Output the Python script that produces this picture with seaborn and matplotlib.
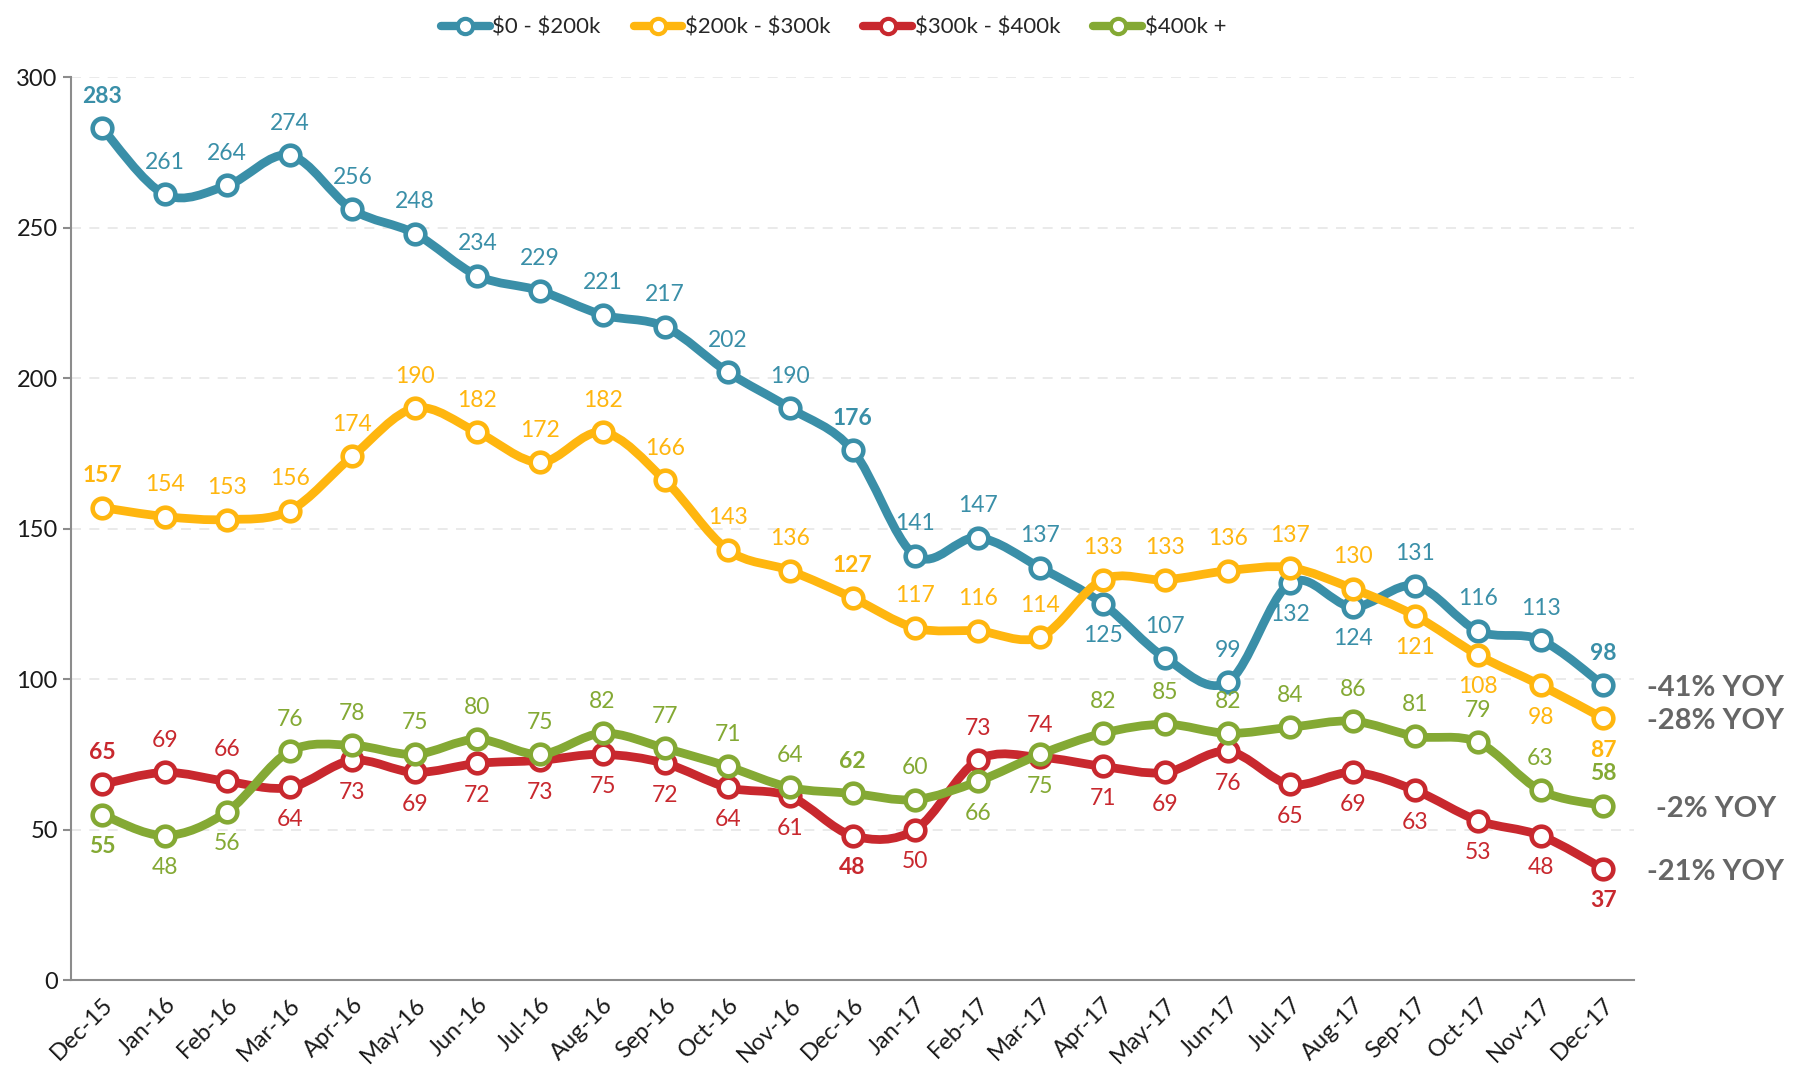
import numpy as np
import pandas as pd
import matplotlib.pyplot as plt
import seaborn as sns
from matplotlib.path import Path
from matplotlib.patches import PathPatch
from matplotlib.lines import Line2D

months = ['Dec-15', 'Jan-16', 'Feb-16', 'Mar-16', 'Apr-16', 'May-16', 'Jun-16', 'Jul-16',
          'Aug-16', 'Sep-16', 'Oct-16', 'Nov-16', 'Dec-16', 'Jan-17', 'Feb-17', 'Mar-17',
          'Apr-17', 'May-17', 'Jun-17', 'Jul-17', 'Aug-17', 'Sep-17', 'Oct-17', 'Nov-17', 'Dec-17']

band_0_200 = [283, 261, 264, 274, 256, 248, 234, 229, 221, 217, 202, 190, 176,
              141, 147, 137, 125, 107, 99, 132, 124, 131, 116, 113, 98]
band_200_300 = [157, 154, 153, 156, 174, 190, 182, 172, 182, 166, 143, 136, 127,
                117, 116, 114, 133, 133, 136, 137, 130, 121, 108, 98, 87]
band_300_400 = [65, 69, 66, 64, 73, 69, 72, 73, 75, 72, 64, 61, 48,
                50, 73, 74, 71, 69, 76, 65, 69, 63, 53, 48, 37]
band_400_up = [55, 48, 56, 76, 78, 75, 80, 75, 82, 77, 71, 64, 62,
               60, 66, 75, 82, 85, 82, 84, 86, 81, 79, 63, 58]

series_names = ['$0 - $200k', '$200k - $300k', '$300k - $400k', '$400k +']
yoy_labels = ['-41% YOY', '-28% YOY', '-21% YOY', '-2% YOY']

# where each data label sits: a = above the point, b = below
label_side = {
    '$0 - $200k':    'aaaaaaaaaaaaaaaabaabbaaaa',
    '$200k - $300k': 'aaaaaaaaaaaaaaaaaaaaabbbb',
    '$300k - $400k': 'aaabbbbbbbbbbbaabbbbbbbbb',
    '$400k +':       'bbbaaaaaaaaaaabbaaaaaaaaa',
}

colors = {'$0 - $200k': '#3A8FA8', '$200k - $300k': '#FFB60F',
          '$300k - $400k': '#C8282E', '$400k +': '#84A934'}

values = dict(zip(series_names, [band_0_200, band_200_300, band_300_400, band_400_up]))
df = pd.DataFrame([(i, m, s, v) for s in series_names for i, (m, v) in enumerate(zip(months, values[s]))],
                  columns=['idx', 'month', 'series', 'value'])

sns.set_style('white')
plt.rcParams['font.family'] = ['Lato', 'DejaVu Sans']

fig = plt.figure(figsize=(17.96, 10.7), dpi=100)
ax = fig.add_axes([0.0395, 0.084, 0.8705, 0.844])


def smooth_path(xs, ys):
    # excel-like smoothed line: catmull-rom segments as cubic beziers
    pts = np.column_stack([xs, ys]).astype(float)
    verts = [pts[0]]
    codes = [Path.MOVETO]
    n = len(pts)
    for i in range(n - 1):
        p0 = pts[max(i - 1, 0)]
        p1 = pts[i]
        p2 = pts[i + 1]
        p3 = pts[min(i + 2, n - 1)]
        c1 = p1 + (p2 - p0) / 6.0
        c2 = p2 - (p3 - p1) / 6.0
        verts += [c1, c2, p2]
        codes += [Path.CURVE4] * 3
    return Path(verts, codes)


for k, name in enumerate(series_names):
    sub = df[df.series == name]
    c = colors[name]
    patch = PathPatch(smooth_path(sub.idx, sub.value), facecolor='none', edgecolor=c,
                      lw=6.3, capstyle='round', joinstyle='round', zorder=3 + 2 * k)
    ax.add_patch(patch)
    sns.scatterplot(x=sub.idx, y=sub.value, ax=ax, color='white', edgecolor=c,
                    s=200, linewidth=3.3, zorder=4 + 2 * k, legend=False)
    for (i, m, v), side in zip(sub[['idx', 'month', 'value']].values, label_side[name]):
        off = 23 if side == 'a' else -23
        ax.annotate(str(v), (i, v), xytext=(0, off), textcoords='offset points',
                    ha='center', va='center', fontsize=16.5, color=c,
                    fontweight='bold' if m.startswith('Dec') else 'normal', zorder=20)

# YOY notes at the right end
last_vals = [values[s][-1] for s in series_names]
for name, txt, v in zip(series_names, yoy_labels, last_vals):
    ax.text(25.8, v - 1, txt, ha='center', va='center', fontsize=21, fontweight='bold',
            color='#666666', clip_on=False)

ax.set_xlim(-0.5, len(months) - 0.5)
ax.set_ylim(0, 300)
ax.set_yticks(range(0, 301, 50))
ax.set_xticks(range(len(months)))
ax.set_xticklabels(months, rotation=45, ha='right', rotation_mode='anchor')
ax.set_xticks(np.arange(-0.5, len(months), 1), minor=True)
ax.tick_params(axis='x', which='major', length=0, pad=10, labelsize=17, labelcolor='#1a1a1a')
ax.tick_params(axis='x', which='minor', length=7, width=1.5, color='#8c8c8c', direction='out')
ax.tick_params(axis='y', length=6, width=1.5, color='#8c8c8c', direction='out',
               labelsize=17, labelcolor='#1a1a1a', left=True)
ax.set_xlabel('')
ax.set_ylabel('')

for y in range(50, 301, 50):
    ax.axhline(y, color='#e6e6e6', lw=1.2, ls=(0, (6, 5)), zorder=1)

sns.despine(ax=ax)
for sp in ['left', 'bottom']:
    ax.spines[sp].set_color('#8c8c8c')
    ax.spines[sp].set_linewidth(1.5)

handles = [Line2D([0], [0], color=colors[s], lw=6, marker='o', markerfacecolor='white',
                  markeredgecolor=colors[s], markersize=11, markeredgewidth=3)
           for s in series_names]
legend_labels = [s.replace('$', r'\$') for s in series_names]
fig.legend(handles, legend_labels, loc='center', bbox_to_anchor=(0.464, 0.974), ncol=4,
           frameon=False, fontsize=16, handlelength=2.2, handletextpad=0.1, columnspacing=1.5)

plt.savefig('out.png', dpi=100)
